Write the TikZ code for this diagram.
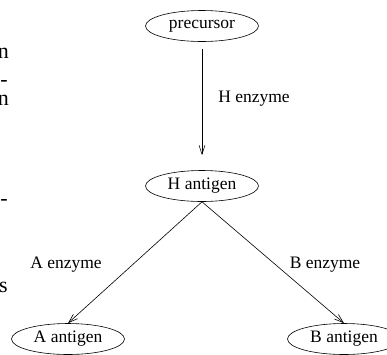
\documentclass[tikz,border=0pt]{standalone}
\usepackage{fontspec}
\setmainfont{Liberation Serif}
\usetikzlibrary{shapes.geometric,arrows.meta}
\begin{document}
\begin{tikzpicture}[x=1pt,y=-1pt,
    antigen/.style={draw, ellipse, minimum width=113pt, minimum height=31pt,
      inner sep=0pt, line width=0.6pt, font=\fontsize{17.5}{20}\selectfont},
    enzyme/.style={font=\fontsize{17.5}{20}\selectfont},
    margintext/.style={anchor=base east, inner sep=0pt, font=\fontsize{22}{26}\selectfont},
    conv/.style={-{Straight Barb[length=9pt,width=6pt]}, line width=0.6pt}]
    \useasboundingbox (0,0) rectangle (387,354);

    % Cut-off text of the page on the left
    \node[margintext] (m1) at (9,58) {n};
    \node[margintext] (m2) at (8,86) {-};
    \node[margintext] (m3) at (9,105) {n};
    \node[margintext] (m4) at (8,205) {-};
    \node[margintext] (m5) at (8,292) {s};

    % Substances
    \node[antigen] (pre) at (202,26) {precursor};
    \node[antigen] (hag) at (202,186) {H antigen};
    \node[antigen] (aag) at (68,339) {A antigen};
    \node[antigen] (bag) at (344,339) {B antigen};

    % Conversions
    \draw[conv, shorten <=7pt, shorten >=15pt] (pre.south) -- (hag.north);
    \draw[conv] (hag.south) -- (aag.north);
    \draw[conv] (hag.south) -- (bag.north);

    % Enzyme labels
    \node[enzyme] (henz) at (254,99) {H enzyme};
    \node[enzyme] (aenz) at (66,265) {A enzyme};
    \node[enzyme] (benz) at (325,265) {B enzyme};

\end{tikzpicture}
\end{document}
